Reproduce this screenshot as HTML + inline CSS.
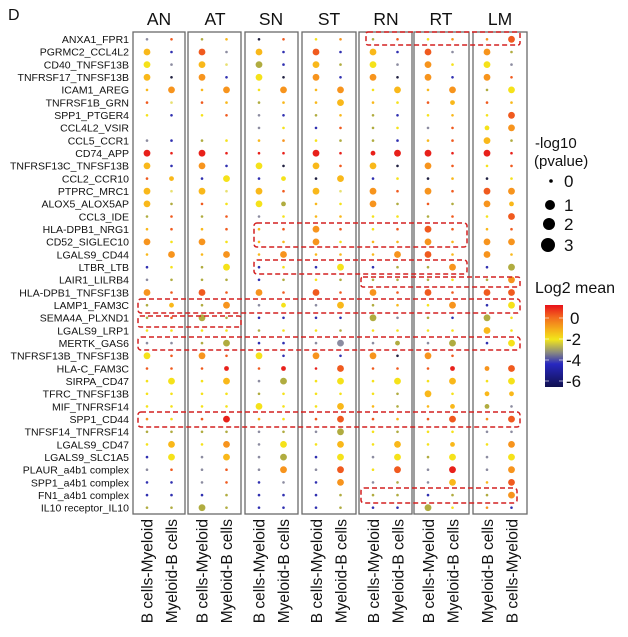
<!DOCTYPE html>
<html><head><meta charset="utf-8"><style>
html,body{margin:0;padding:0;background:#fff}
svg{display:block}
text{font-family:"Liberation Sans",Arial,sans-serif;fill:#111}
</style></head><body>
<svg id="s" width="628" height="637" viewBox="0 0 628 637" xmlns="http://www.w3.org/2000/svg">
<defs>
<linearGradient id="cb" x1="0" y1="0" x2="0" y2="1">
<stop offset="0" stop-color="#e8101a"/>
<stop offset="0.15" stop-color="#f26a1e"/>
<stop offset="0.3" stop-color="#f5b01a"/>
<stop offset="0.42" stop-color="#f2e61a"/>
<stop offset="0.58" stop-color="#8a8a80"/>
<stop offset="0.72" stop-color="#2828c0"/>
<stop offset="1" stop-color="#101050"/>
</linearGradient>
</defs>
<text x="8" y="20" font-size="16">D</text>
<g font-size="17.5" text-anchor="middle">
<text x="159" y="25">AN</text><text x="215" y="25">AT</text><text x="271" y="25">SN</text><text x="329" y="25">ST</text><text x="386" y="25">RN</text><text x="441" y="25">RT</text><text x="500" y="25">LM</text>
</g>
<g font-size="10.5" text-anchor="end" id="lab">
<text x="129" y="43">ANXA1_FPR1</text>
<text x="129" y="55.7">PGRMC2_CCL4L2</text>
<text x="129" y="68.3">CD40_TNFSF13B</text>
<text x="129" y="81">TNFRSF17_TNFSF13B</text>
<text x="129" y="93.6">ICAM1_AREG</text>
<text x="129" y="106.3">TNFRSF1B_GRN</text>
<text x="129" y="119">SPP1_PTGER4</text>
<text x="129" y="131.6">CCL4L2_VSIR</text>
<text x="129" y="144.3">CCL5_CCR1</text>
<text x="129" y="157">CD74_APP</text>
<text x="129" y="169.6">TNFRSF13C_TNFSF13B</text>
<text x="129" y="182.3">CCL2_CCR10</text>
<text x="129" y="195">PTPRC_MRC1</text>
<text x="129" y="207.6">ALOX5_ALOX5AP</text>
<text x="129" y="220.3">CCL3_IDE</text>
<text x="129" y="233">HLA-DPB1_NRG1</text>
<text x="129" y="245.6">CD52_SIGLEC10</text>
<text x="129" y="258.3">LGALS9_CD44</text>
<text x="129" y="271">LTBR_LTB</text>
<text x="129" y="283.6">LAIR1_LILRB4</text>
<text x="129" y="296.3">HLA-DPB1_TNFSF13B</text>
<text x="129" y="309">LAMP1_FAM3C</text>
<text x="129" y="321.6">SEMA4A_PLXND1</text>
<text x="129" y="334.3">LGALS9_LRP1</text>
<text x="129" y="347">MERTK_GAS6</text>
<text x="129" y="359.6">TNFRSF13B_TNFSF13B</text>
<text x="129" y="372.3">HLA-C_FAM3C</text>
<text x="129" y="385">SIRPA_CD47</text>
<text x="129" y="397.6">TFRC_TNFSF13B</text>
<text x="129" y="410.3">MIF_TNFRSF14</text>
<text x="129" y="423">SPP1_CD44</text>
<text x="129" y="435.6">TNFSF14_TNFRSF14</text>
<text x="129" y="448.3">LGALS9_CD47</text>
<text x="129" y="461">LGALS9_SLC1A5</text>
<text x="129" y="473.6">PLAUR_a4b1 complex</text>
<text x="129" y="486.3">SPP1_a4b1 complex</text>
<text x="129" y="499">FN1_a4b1 complex</text>
<text x="129" y="511.6">IL10 receptor_IL10</text>
</g>
<g fill="none" stroke="#6a6a6a" stroke-width="1.3">
<rect x="133" y="32" width="52" height="482"/>
<rect x="188" y="32" width="53" height="482"/>
<rect x="245" y="32" width="53" height="482"/>
<rect x="302" y="32" width="54" height="482"/>
<rect x="359" y="32" width="53" height="482"/>
<rect x="414" y="32" width="55" height="482"/>
<rect x="473" y="32" width="54" height="482"/>
</g>
<g id="dots"></g>
<g fill="none" stroke="#d42020" stroke-width="1.5" stroke-dasharray="5,3">
<rect x="366" y="32" width="154" height="13" rx="2"/>
<rect x="254" y="223" width="213" height="24" rx="3"/>
<rect x="254" y="260" width="213" height="14" rx="3"/>
<rect x="361" y="277" width="159" height="10" rx="2"/>
<rect x="138" y="299" width="382" height="14" rx="3"/>
<rect x="138" y="316" width="103" height="11" rx="2"/>
<rect x="138" y="337" width="382" height="13" rx="3"/>
<rect x="138" y="412" width="382" height="15" rx="3"/>
<rect x="361" y="488" width="156" height="15" rx="3"/>
</g>
<g font-size="15.5">
<text transform="translate(152.5,519) rotate(-90)" text-anchor="end">B cells-Myeloid</text>
<text transform="translate(177,519) rotate(-90)" text-anchor="end">Myeloid-B cells</text>
<text transform="translate(207.5,519) rotate(-90)" text-anchor="end">B cells-Myeloid</text>
<text transform="translate(232,519) rotate(-90)" text-anchor="end">Myeloid-B cells</text>
<text transform="translate(264.5,519) rotate(-90)" text-anchor="end">B cells-Myeloid</text>
<text transform="translate(289,519) rotate(-90)" text-anchor="end">Myeloid-B cells</text>
<text transform="translate(322,519) rotate(-90)" text-anchor="end">B cells-Myeloid</text>
<text transform="translate(346.5,519) rotate(-90)" text-anchor="end">Myeloid-B cells</text>
<text transform="translate(379,519) rotate(-90)" text-anchor="end">B cells-Myeloid</text>
<text transform="translate(403.5,519) rotate(-90)" text-anchor="end">Myeloid-B cells</text>
<text transform="translate(434,519) rotate(-90)" text-anchor="end">B cells-Myeloid</text>
<text transform="translate(458.5,519) rotate(-90)" text-anchor="end">Myeloid-B cells</text>
<text transform="translate(493,519) rotate(-90)" text-anchor="end">Myeloid-B cells</text>
<text transform="translate(517.5,519) rotate(-90)" text-anchor="end">B cells-Myeloid</text>
</g>
<g font-size="15">
<text x="535" y="148">-log10</text>
<text x="534" y="166">(pvalue)</text>
<circle cx="551" cy="181" r="1.8" fill="#000"/><text x="564" y="187" font-size="17">0</text>
<circle cx="550" cy="205" r="5" fill="#000"/><text x="564" y="211" font-size="17">1</text>
<circle cx="549" cy="224" r="6" fill="#000"/><text x="564" y="230" font-size="17">2</text>
<circle cx="548" cy="245" r="7" fill="#000"/><text x="564" y="251" font-size="17">3</text>
<text x="535" y="293" font-size="16">Log2 mean</text>
<rect x="545" y="305" width="18" height="82" fill="url(#cb)"/>
<g stroke="#fff" stroke-width="1" opacity="0.6"><line x1="545" y1="318" x2="549" y2="318"/><line x1="559" y1="318" x2="563" y2="318"/><line x1="545" y1="339" x2="549" y2="339"/><line x1="559" y1="339" x2="563" y2="339"/><line x1="545" y1="360" x2="549" y2="360"/><line x1="559" y1="360" x2="563" y2="360"/><line x1="545" y1="381" x2="549" y2="381"/><line x1="559" y1="381" x2="563" y2="381"/></g>
<text x="570" y="324" font-size="17">0</text>
<text x="566" y="345" font-size="17">-2</text>
<text x="566" y="366" font-size="17">-4</text>
<text x="566" y="387" font-size="17">-6</text>
</g>
</svg>
<script>
var C={r:"#e8201a",o:"#f05a1e",O:"#f7941d",a:"#f9b81a",y:"#f5e21a",l:"#e8e070",g:"#b0ac40",p:"#8c8ca0",b:"#3030b0",k:"#202040"};
var R=[1.3,2.4,3.4,4.2];
var D=[
"0p 0o 0g 0a 0k 0o 0y 0O 0g 0o 0y 0O 0O 2o",
"2a 0b 2o 0p 2a 0b 2o 0b 2a 0b 2o 0p 2O 0g",
"2y 0p 2a 0l 2g 0b 2a 0g 2y 0p 2O 0y 2y 0p",
"2a 0k 2O 0b 2y 0k 2O 0b 2O 0k 2O 0b 2O 0o",
"0a 2O 0a 2O 0y 2O 0a 2O 0y 2a 0a 2O 0g 2y",
"0o 0l 0o 0a 0g 0a 0a 2a 0a 0y 0o 1a 0o 0a",
"0y 0b 0y 0o 0p 0b 0g 0a 0g 0b 0y 0a 0y 2o",
"- - - - 0p 0y 0b 0o 0g 0y 0p 0o 1y 2O",
"0p 0b 0g 0y 0a 0O 0y 0g 0g 0b 0a 0o 2a 0g",
"2r 0r 2r 0r 0r 0r 2r 0r 1r 2r 2r 0r 2r 0r",
"2a 0b 2O 0b 2y 0k 2a 0o 2a 0k 2O 0o 0y 0o",
"0o 1a 0b 2y 0b 1y 0k 2a 0b 0y 0k 0a 0k 0y",
"2a 0l 2a 0l 2a 0o 2a 0l 2O 0o 2O 0o 2o 2O",
"2a 0g 0o 0y 2y 1g 0a 0y 2O 0g 0o 0g 2O 1a",
"0g 0o 0g 0o 0p 0y 0a 0a 0y 0y 0g 0o 0y 2o",
"0a 0o 0a 0o 0a 0o 2O 0o 0y 0o 2o 0o 0a 0o",
"2O 0y 2O 0y 0a 0a 2O 0y 0a 0a 2O 0a 2O 2O",
"0a 2O 0a 2O 0a 2O 0a 0a 0a 2O 2o 0a 2O 0a",
"0b 0y 0g 2y 0b 0y 0b 2y 0b 0g 0g 2O 0b 2g",
"0p 0g 0g 0g 0b 0g 0y 0g 0g 0g 0g 0y 0g 2O",
"2O 0o 2o 0o 2O 0o 2o 0o 2O 0o 2o 0o 2o 2o",
"0g 1a 0g 2O 0p 1y 0p 2a 0g 0a 0y 2O 0b 2y",
"0g 0o 2g 0g 0b 0b 0b 0b 2g 0p 0g 0b 2g 0y",
"0y 0y 0y 0y 0g 0y 0y 0g 0y 0y 0y 0y 2a 0y",
"0p 0p 0g 2g 0b 0b 0p 2p 0p 1g 0p 2g 0b 2y",
"2y 0o 2O 0o 2y 0b 2O 0b 2O 0k 2O 0o - -",
"0o 0o 0o 1r 0o 1r 0r 2o 0o 0o 0o 1r 1O 2o",
"0y 2y 0y 2a 0p 2g 0y 2y 0y 2y 0y 2a 0y 2y",
"0y 0y 0y 0y 0g 0y 0y 0y 0y 0g 2a 0y 1a 1a",
"0y 0y 0y 0y 2y 0y 0y 2a 0a 0g 0a 1a 1g 0p",
"0O 0y 0o 2r 0a 0y 0o 2o 0o 0a 0o 2o 0O 2o",
"0g 0g 0g 0g 0p 0g 0p 2g 0y 0g 0y 0y 0p 0p",
"0y 2a 0y 2O 0p 2y 0y 2a 0y 2a 0y 1a 0y 2O",
"0b 2y 0p 2a 0p 2g 0b 2y 0p 2y 0g 2y 0p 2y",
"0p 0o 0p 0o 0p 2O 0p 2o 0y 2o 0p 2r 0p 2O",
"0b 0b 0p 0o 0b 0p 0b 2O 0p 0g 0p 2a 0a 2o",
"0b 0b 0b 0g 0b 0b 0b 0g 0g 0g 0b 0g 0g 2O",
"0g 0g 2g 0g 0b 0b 0b 0g 0b 0b 2g 0y 0O 0b"];
var P=[133,188,245,302,359,414,473],h="";
for(var i=0;i<D.length;i++){var t=D[i].split(" "),y=39.3+i*12.66;
for(var j=0;j<14;j++){var s=t[j];if(s=="-")continue;
var x=P[j>>1]+(j&1?38.5:14);
h+='<circle cx="'+x+'" cy="'+y.toFixed(1)+'" r="'+R[+s[0]]+'" fill="'+C[s[1]]+'"/>';}}
document.getElementById("dots").innerHTML=h;
</script>
</body></html>
